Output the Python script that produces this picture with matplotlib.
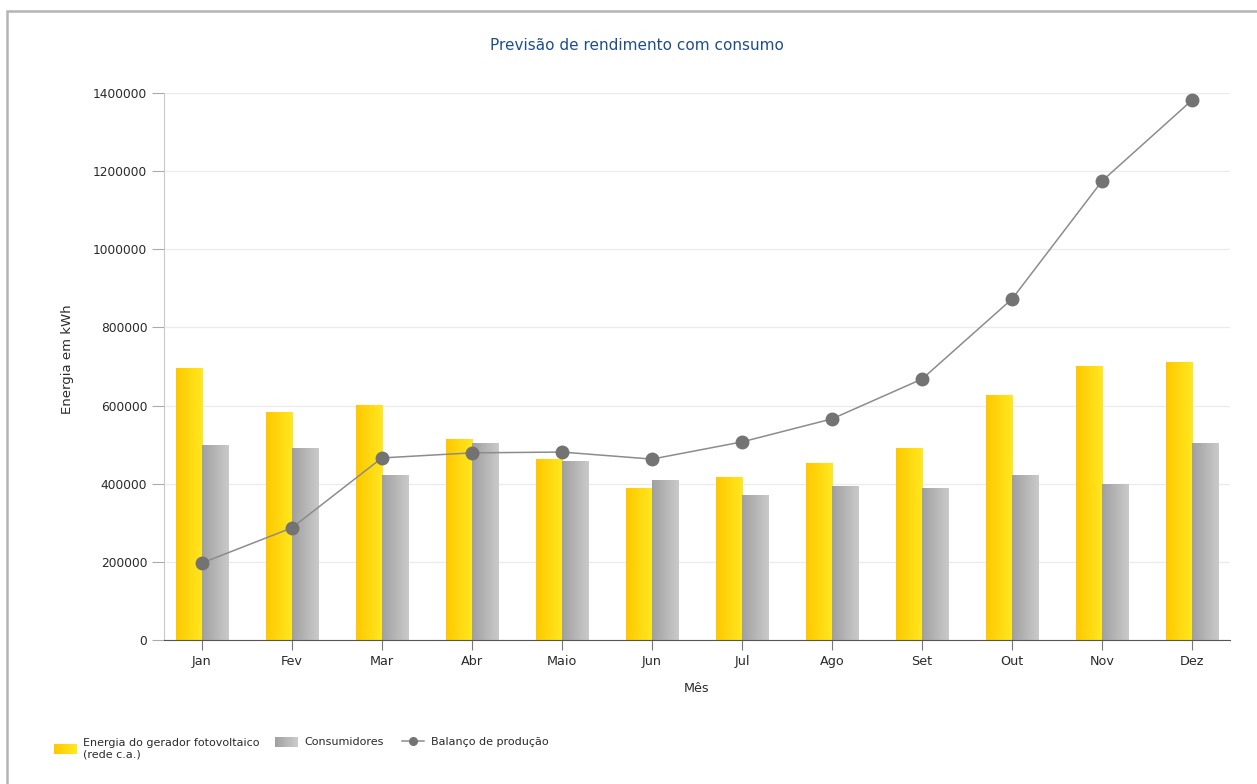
import numpy as np
import matplotlib.pyplot as plt
from matplotlib.patches import Rectangle
from matplotlib.lines import Line2D
from matplotlib.legend_handler import HandlerBase

months = ["Jan", "Fev", "Mar", "Abr", "Maio", "Jun", "Jul", "Ago", "Set", "Out", "Nov", "Dez"]
geracao = [694000, 581000, 601000, 514000, 463000, 389000, 415000, 453000, 491000, 627000, 701000, 711000]
consumo = [497000, 491000, 422000, 504000, 458000, 407000, 371000, 392000, 389000, 422000, 399000, 504000]
balanco = [197000, 287000, 466000, 479000, 481000, 463000, 507000, 566000, 668000, 873000, 1175000, 1382000]

yellow_grad = ["#FFC800", "#FFE820"]
gray_grad = ["#A0A0A0", "#CACACA"]
text_col = "#2A2A2A"

plt.rcParams['font.family'] = ['DejaVu Sans']


def to_rgb(c):
    return np.array(plt.matplotlib.colors.to_rgb(c))


def gradient_bars(ax, xs, heights, width, cols):
    t = np.linspace(0, 1, 64)[None, :, None]
    img = to_rgb(cols[0]) + (to_rgb(cols[1]) - to_rgb(cols[0])) * t
    for x, h in zip(xs, heights):
        ax.imshow(img, extent=[x, x + width, 0, h], aspect='auto', origin='lower',
                  interpolation='bilinear', zorder=2)


class GradientHandler(HandlerBase):
    def __init__(self, cols):
        super().__init__()
        self.cols = cols

    def create_artists(self, legend, orig_handle, xdescent, ydescent, width, height, fontsize, trans):
        n = 20
        c0, c1 = to_rgb(self.cols[0]), to_rgb(self.cols[1])
        arts = []
        for i in range(n):
            c = c0 + (c1 - c0) * i / (n - 1)
            arts.append(Rectangle((-xdescent + width * i / n, -ydescent), width / n + 0.3, height,
                                  facecolor=c, edgecolor='none', transform=trans))
        return arts


fig = plt.figure(figsize=(12.57, 7.84), dpi=100)
ax = fig.add_axes([164 / 1257, 1 - 640 / 784, (1230 - 164) / 1257, (640 - 93) / 784])

x = np.arange(len(months))
w = 0.29
gradient_bars(ax, x - w, geracao, w, yellow_grad)
gradient_bars(ax, x, consumo, w, gray_grad)
ax.plot(x, balanco, color="#8C8C8C", lw=1.1, marker='o', markersize=9,
        markerfacecolor="#737373", markeredgecolor="#737373", zorder=4)

ax.set_xlim(-0.42, len(months) - 1 + 0.42)
ax.set_ylim(0, 1400000)
ax.set_yticks(np.arange(0, 1400001, 200000))
ax.set_yticklabels([str(v) for v in range(0, 1400001, 200000)])
ax.set_xticks(x)
ax.set_xticklabels(months)
ax.grid(axis='y', color="#EBEBEB", lw=0.9, zorder=0)
ax.set_axisbelow(True)

for s in ['top', 'right']:
    ax.spines[s].set_visible(False)
ax.spines['left'].set_color("#C8C8C8")
ax.spines['bottom'].set_color("#555555")
ax.tick_params(axis='y', colors="#AAAAAA", labelcolor=text_col, labelsize=8.8, length=9, width=0.8, pad=3)
ax.tick_params(axis='x', colors="#777777", labelcolor=text_col, labelsize=9.2, length=7, width=0.8, pad=4)

fig.text(637 / 1257, 1 - 46 / 784, "Previsão de rendimento com consumo", color="#1F4E8C",
         fontsize=11, ha='center', va='center')
ax.set_xlabel("Mês", color=text_col, fontsize=9.2)
ax.xaxis.set_label_coords(0.5, -(689 - 640) / (640 - 93))
ax.xaxis.label.set_va('center')
ax.set_ylabel("Energia em kWh", color=text_col, fontsize=9.5)
ax.yaxis.set_label_coords(-(164 - 67) / (1230 - 164), (640 - 359) / (640 - 93))
ax.yaxis.label.set_va('center')

# legend: first entry on its own, the other two aligned with its first text line
leg_kw = dict(frameon=False, fontsize=8, handlelength=2.0, handleheight=1.05,
              handletextpad=0.6, columnspacing=1.7, labelcolor=text_col,
              borderpad=0, borderaxespad=0)
h_pv = Rectangle((0, 0), 1, 1)
fig.legend([h_pv], ["Energia do gerador fotovoltaico\n(rede c.a.)"],
           loc='center left', bbox_to_anchor=(54 / 1257, 1 - 749 / 784),
           handler_map={h_pv: GradientHandler(yellow_grad)}, **leg_kw)
h_cons = Rectangle((0, 0), 1, 1)
h_bal = Line2D([], [], color="#8C8C8C", lw=1.1, marker='o', markersize=5.5,
               markerfacecolor="#737373", markeredgecolor="#737373")
fig.legend([h_cons, h_bal], ["Consumidores", "Balanço de produção"], ncol=2,
           loc='center left', bbox_to_anchor=(275 / 1257, 1 - 742 / 784),
           handler_map={h_cons: GradientHandler(gray_grad)}, **leg_kw)

# outer frame
fig.patches.append(Rectangle((7 / 1257, -0.02), 1.1, 1 - 11 / 784 + 0.02, transform=fig.transFigure,
                             fill=False, edgecolor="#B4B4B4", lw=1.8))

fig.savefig("out.png", dpi=100)
